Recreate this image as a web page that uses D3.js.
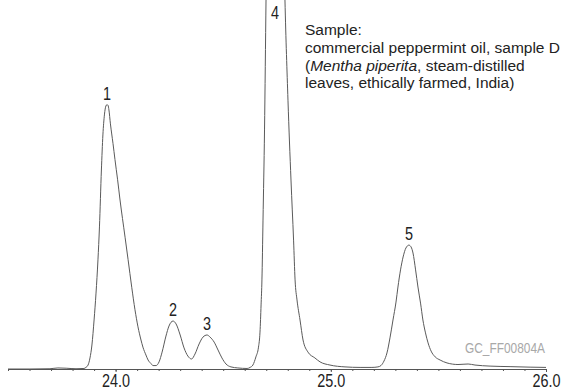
<!DOCTYPE html>
<html>
<head>
<meta charset="utf-8">
<script src="https://cdn.jsdelivr.net/npm/d3@7"></script>
<style>
  body { margin: 0; background: #fff; }
  svg { display: block; }
  .num { font-family: "Liberation Sans", Arial, sans-serif; font-size: 18px; fill: #222; }
  .note { font-family: "Liberation Sans", Arial, sans-serif; font-size: 15.5px; fill: #222; }
</style>
</head>
<body>
<div id="chart"></div>
<script>
// Chart size
const width = 561;
const height = 390;
const squeeze = 0.8; // the original uses a condensed face for numbers

// Trace: retention time (min) and detector signal (peak 1 ~ 100)
const traceTimes = [
  23.500, 23.602, 23.695, 23.732, 23.770, 23.816, 23.853, 23.862, 23.872, 23.881,
  23.890, 23.900, 23.909, 23.918, 23.925, 23.934, 23.941, 23.948, 23.955, 23.960,
  23.965, 23.969, 23.976, 23.988, 23.997, 24.009, 24.020, 24.044, 24.058, 24.075,
  24.090, 24.104, 24.118, 24.127, 24.141, 24.151, 24.164, 24.174, 24.188, 24.202,
  24.216, 24.234, 24.248, 24.267, 24.281, 24.300, 24.318, 24.336, 24.353, 24.369,
  24.388, 24.406, 24.425, 24.439, 24.458, 24.476, 24.494, 24.513, 24.536, 24.568,
  24.611, 24.625, 24.638, 24.652, 24.664, 24.671, 24.676, 24.680, 24.685, 24.692,
  24.699, 24.708, 24.727, 24.741, 24.755, 24.773, 24.787, 24.801, 24.815, 24.827,
  24.834, 24.843, 24.857, 24.871, 24.894, 24.926, 24.950, 24.996, 25.066, 25.136,
  25.191, 25.219, 25.233, 25.247, 25.261, 25.275, 25.289, 25.303, 25.312, 25.324,
  25.336, 25.349, 25.363, 25.373, 25.382, 25.394, 25.405, 25.417, 25.428, 25.440,
  25.452, 25.466, 25.485, 25.508, 25.540, 25.591, 25.638, 25.670, 25.740, 25.833,
  25.926, 26.000
];
const traceSignal = [
  0.0, 0.0, 0.1, 0.4, 0.3, 0.1, 0.2, 0.6, 1.5, 4.2,
  9.1, 18.6, 28.8, 41.4, 53.9, 75.5, 88.8, 96.4, 99.8, 100.3,
  100.0, 98.3, 93.0, 85.5, 79.5, 72.0, 64.5, 50.0, 41.5, 31.0,
  22.5, 16.0, 11.0, 8.3, 5.3, 3.4, 2.1, 1.3, 1.3, 2.7,
  6.4, 12.5, 16.3, 18.2, 17.1, 12.9, 8.0, 4.9, 3.8, 5.7,
  9.5, 12.1, 12.9, 12.1, 10.2, 7.2, 4.2, 1.9, 0.8, 0.4,
  0.2, 0.6, 1.5, 4.6, 8.3, 14.0, 24.3, 33.8, 56.5, 90.7,
  140.0, 196.9, 253.8, 276.6, 253.8, 196.9, 140.0, 102.0, 71.7, 48.9,
  33.8, 26.2, 18.6, 11.0, 6.4, 4.2, 2.7, 1.5, 0.8, 0.6,
  0.6, 0.8, 1.3, 3.0, 6.1, 11.8, 18.6, 25.4, 31.1, 37.6,
  42.5, 45.9, 47.0, 46.3, 44.0, 37.6, 31.1, 25.0, 18.6, 13.7,
  9.9, 6.8, 4.6, 3.4, 2.3, 1.7, 1.9, 1.5, 1.1, 0.9,
  0.7, 0.6
];

// Peak numbers and their apex positions
const peakLabels = ["1", "2", "3", "4", "5"];
const peakTimes = [23.960, 24.267, 24.425, 24.741, 25.363];
const peakHeights = [100.3, 18.2, 12.9, 276.6, 47.0];

// Axis labels
const majorTicks = [24.0, 25.0, 26.0];

// Sample note
const noteLines = [
  [{ t: "Sample:" }],
  [{ t: "commercial peppermint oil, sample D" }],
  [{ t: "(" }, { t: "Mentha piperita", i: true }, { t: ", steam-distilled" }],
  [{ t: "leaves, ethically farmed, India)" }]
];
const codeLabel = "GC_FF00804A";

const svg = d3.select("#chart")
  .append("svg")
  .attr("width", width)
  .attr("height", height);

const x = d3.scaleLinear().domain([23.5, 26.0]).range([8, 546]);
const y = d3.scaleLinear().domain([0, 140]).range([369, 0]);

// clip so the big peak 4 runs off the top
svg.append("clipPath")
  .attr("id", "plot-clip")
  .append("rect")
  .attr("x", 0).attr("y", 0)
  .attr("width", width).attr("height", y(0) + 1);

const points = traceTimes.map((t, i) => [t, traceSignal[i]]);

const line = d3.line()
  .x(d => x(d[0]))
  .y(d => y(d[1]))
  .curve(d3.curveMonotoneX);

svg.append("path")
  .datum(points)
  .attr("clip-path", "url(#plot-clip)")
  .attr("fill", "none")
  .attr("stroke", "#5a5a5a")
  .attr("stroke-width", 1)
  .attr("d", line);

// minor ticks every 0.1 min
const minorAxis = d3.axisBottom(x)
  .tickValues(x.ticks(25))
  .tickSize(2)
  .tickSizeOuter(0)
  .tickFormat("");

const axisG = svg.append("g")
  .attr("transform", `translate(0,${y(0)})`)
  .call(minorAxis);
axisG.selectAll("path, line").attr("stroke", "#555");

// major ticks with labels
const majorAxis = d3.axisBottom(x)
  .tickValues(majorTicks)
  .tickSize(3)
  .tickSizeOuter(0)
  .tickFormat(d3.format(".1f"));

const majorG = svg.append("g")
  .attr("transform", `translate(0,${y(0)})`)
  .call(majorAxis);
majorG.select(".domain").remove();
majorG.selectAll("line").attr("stroke", "#555");
majorG.selectAll("text")
  .attr("class", "num")
  .attr("font-family", null)
  .attr("font-size", null)
  .attr("fill", null)
  .attr("dy", null)
  .attr("y", 0)
  .attr("transform", `translate(0,18) scale(${squeeze},1)`);

// peak numbers above each apex
svg.selectAll(".peak-label")
  .data(peakLabels)
  .enter().append("text")
  .attr("class", "num peak-label")
  .attr("text-anchor", "middle")
  .attr("transform", (d, i) =>
    `translate(${x(peakTimes[i])},${Math.max(y(peakHeights[i]) - 5, 19)}) scale(${squeeze},1)`)
  .text(d => d);

// sample description
const note = svg.append("text")
  .attr("class", "note")
  .attr("x", 305)
  .attr("y", 35);

noteLines.forEach((parts, li) => {
  parts.forEach((p, pi) => {
    const span = note.append("tspan").text(p.t);
    if (pi === 0) span.attr("x", 305).attr("dy", li === 0 ? 0 : 17.8);
    if (p.i) span.attr("font-style", "italic");
  });
});

svg.append("text")
  .attr("text-anchor", "end")
  .attr("transform", `translate(545,353) scale(0.85,1)`)
  .attr("font-family", "'Liberation Sans', Arial, sans-serif")
  .attr("font-size", 14)
  .attr("fill", "#a8a8a8")
  .text(codeLabel);
</script>
</body>
</html>
